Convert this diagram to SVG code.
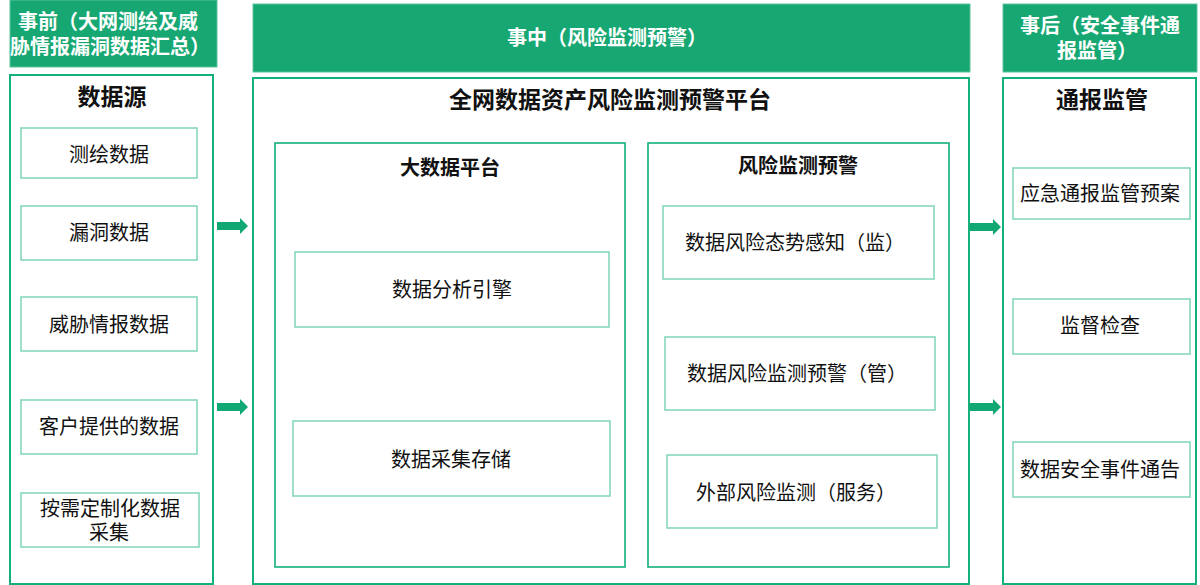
<svg xmlns="http://www.w3.org/2000/svg" xmlns:xlink="http://www.w3.org/1999/xlink" width="1200" height="585" viewBox="0 0 1200 585">
<style>
text{font-family:"Noto Sans CJK SC","Noto Sans",sans-serif;fill:#111;text-anchor:middle}
.hdr{fill:#16a772;stroke:#5cc49c;stroke-width:1}
.hdrt{fill:#fff;font-weight:bold;font-size:20px}
.panel{fill:#fff;stroke:#14b07a;stroke-width:2}
.sub{fill:#fff;stroke:#14b07a;stroke-width:1.6}
.box{fill:#fff;stroke:#80d4b6;stroke-width:1.5}
.t1{font-weight:bold;font-size:23px}
.t2{font-weight:bold;font-size:20px}
.bt{font-size:20px}
.arr{fill:#12a874}
</style>
<defs>
<path id="arrow" d="M0,-4 L23,-4 L23,-8 L31,0 L23,8 L23,4 L0,4 Z"/>
</defs>
<rect width="1200" height="585" fill="#fff"/>

<g id="header-before">
<rect class="hdr" x="10" y="0" width="207" height="67"/>
<text class="hdrt"><tspan x="108" y="29">事前（大网测绘及威</tspan><tspan x="110" y="54">胁情报漏洞数据汇总）</tspan></text>
</g>
<g id="header-during">
<rect class="hdr" x="253" y="4" width="717" height="68"/>
<text class="hdrt" x="607" y="45">事中（风险监测预警）</text>
</g>
<g id="header-after">
<rect class="hdr" x="1003" y="4" width="194" height="68"/>
<text class="hdrt"><tspan x="1100" y="33">事后（安全事件通</tspan><tspan x="1097" y="58">报监管）</tspan></text>
</g>

<g id="panel-source">
<rect class="panel" x="10" y="75" width="203" height="509"/>
<text class="t1" x="112" y="105">数据源</text>
</g>
<g id="node-survey"><rect class="box" x="21" y="128" width="176" height="50"/><text class="bt" x="109" y="162">测绘数据</text></g>
<g id="node-vuln"><rect class="box" x="21" y="206" width="176" height="54"/><text class="bt" x="109" y="240">漏洞数据</text></g>
<g id="node-threat"><rect class="box" x="21" y="297" width="176" height="54"/><text class="bt" x="109" y="332">威胁情报数据</text></g>
<g id="node-customer"><rect class="box" x="21" y="400" width="176" height="54"/><text class="bt" x="109" y="434">客户提供的数据</text></g>
<g id="node-custom"><rect class="box" x="21" y="493" width="178" height="54"/><text class="bt"><tspan x="110" y="516">按需定制化数据</tspan><tspan x="109" y="540">采集</tspan></text></g>

<g id="panel-platform">
<rect class="panel" x="253" y="78" width="716" height="506"/>
<text class="t1" x="610" y="108">全网数据资产风险监测预警平台</text>
</g>
<g id="panel-bigdata">
<rect class="sub" x="275" y="143" width="350" height="424"/>
<text class="t2" x="450" y="175">大数据平台</text>
</g>
<g id="node-analysis"><rect class="box" x="295" y="252" width="314" height="75"/><text class="bt" x="452" y="297">数据分析引擎</text></g>
<g id="node-collect"><rect class="box" x="293" y="421" width="317" height="75"/><text class="bt" x="451" y="467">数据采集存储</text></g>

<g id="panel-risk">
<rect class="sub" x="648" y="143" width="301" height="424"/>
<text class="t2" x="798" y="173">风险监测预警</text>
</g>
<g id="node-aware"><rect class="box" x="663" y="206" width="271" height="73"/><text class="bt" x="795" y="250">数据风险态势感知（监）</text></g>
<g id="node-warn"><rect class="box" x="665" y="337" width="270" height="73"/><text class="bt" x="797" y="381">数据风险监测预警（管）</text></g>
<g id="node-external"><rect class="box" x="667" y="455" width="270" height="73"/><text class="bt" x="796" y="500">外部风险监测（服务）</text></g>

<g id="panel-report">
<rect class="panel" x="1003" y="78" width="193" height="506"/>
<text class="t1" x="1102" y="108">通报监管</text>
</g>
<g id="node-plan"><rect class="box" x="1013" y="168" width="177" height="51"/><text class="bt" x="1100" y="201">应急通报监管预案</text></g>
<g id="node-inspect"><rect class="box" x="1013" y="299" width="177" height="55"/><text class="bt" x="1100" y="333">监督检查</text></g>
<g id="node-notice"><rect class="box" x="1013" y="442" width="177" height="55"/><text class="bt" x="1100" y="477">数据安全事件通告</text></g>

<g id="connectors" class="arr">
<use xlink:href="#arrow" x="217" y="226"/>
<use xlink:href="#arrow" x="217" y="407"/>
<use xlink:href="#arrow" x="970" y="227"/>
<use xlink:href="#arrow" x="970" y="407"/>
</g>
</svg>
